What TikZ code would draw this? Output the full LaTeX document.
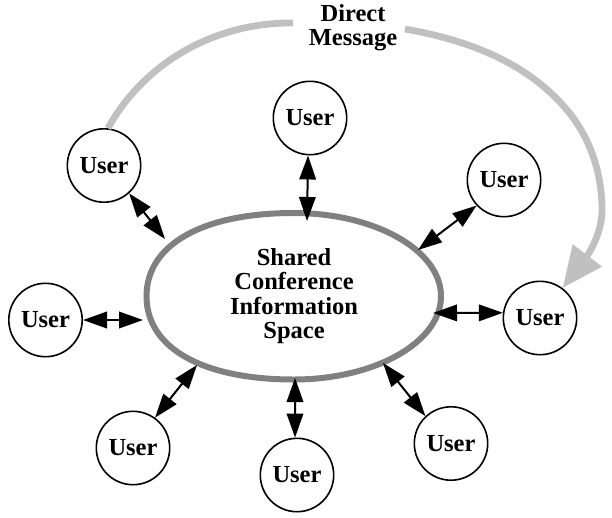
\documentclass[tikz,border=0pt]{standalone}
\usepackage{fontspec}
\setmainfont{Liberation Serif}
\usetikzlibrary{arrows.meta}
\definecolor{ellgray}{RGB}{128,128,128}
\definecolor{dmgray}{RGB}{192,192,192}
\begin{document}
\begin{tikzpicture}[x=1pt,y=-1pt,
  user/.style={circle,draw=black,line width=1.6pt,fill=white,minimum size=73.4pt,inner sep=0pt,
    font=\fontsize{24.5pt}{24.5pt}\selectfont\bfseries},
  biarrow/.style={line width=2pt,{Triangle[length=24pt,width=16.5pt]}-{Triangle[length=24pt,width=16.5pt]}},
  dmline/.style={line width=6.8pt,draw=dmgray},
  bigtext/.style={align=center,inner sep=0pt,font=\fontsize{24.5pt}{24.5pt}\selectfont\bfseries}]
\useasboundingbox (0,0) rectangle (612,517);
% shared space (slightly fuller on the left)
\draw[ellgray,line width=6pt]
  (441,296.25) .. controls (441,250.27) and (375.08,213) .. (293.75,213)
  .. controls (202.46,213) and (146.5,244.64) .. (146.5,296.25)
  .. controls (146.5,347.86) and (202.46,379.5) .. (293.75,379.5)
  .. controls (375.08,379.5) and (441,342.23) .. (441,296.25) -- cycle;
\node[bigtext] (E) at (294,296) {Shared\\Conference\\Information\\Space};
\node[bigtext] (DM) at (353,27.5) {Direct\\Message};
% users
\node[user] (U1) at (104,165.5) {User};
\node[user] (U2) at (310,118) {User};
\node[user] (U3) at (504,180) {User};
\node[user] (U4) at (45.5,320) {User};
\node[user] (U5) at (540,318) {User};
\node[user] (U6) at (133,448) {User};
\node[user] (U7) at (297,475) {User};
\node[user] (U8) at (451,443.5) {User};
% contact points on the shared space
\coordinate (e1) at (165,239);
\coordinate (e2) at (307,221);
\coordinate (e3) at (418,250);
\coordinate (e4) at (143,320);
\coordinate (e5) at (433,313);
\coordinate (e6) at (197,365);
\coordinate (e7) at (295,378);
\coordinate (e8) at (383,363);
\draw[biarrow] (U1.-48) -- (e1);
\draw[biarrow] (U2.-93) -- (e2);
\draw[biarrow] (U3.-137) -- (e3);
\draw[biarrow] (U4.0) -- (e4);
\draw[biarrow] (U5.172) -- (e5);
\draw[biarrow] (U6.54) -- (e6);
\draw[biarrow] (U7.93) -- (e7);
\draw[biarrow] (U8.133) -- (e8);
% direct message
\coordinate (dmL) at (293,23);
\coordinate (dmR) at (405,29);
\draw[dmline] (U1.84) .. controls (145.2,61.2) and (216.4,22.2) .. (dmL);
\draw[dmline,-{Triangle[length=41pt,width=35pt]}] (dmR)
  .. controls (467,40) and (526.5,61.7) .. (567,110)
  .. controls (591.4,139) and (602,175) .. (602,210)
  .. controls (602,232) and (590,252) .. (U5.53);
\end{tikzpicture}
\end{document}
